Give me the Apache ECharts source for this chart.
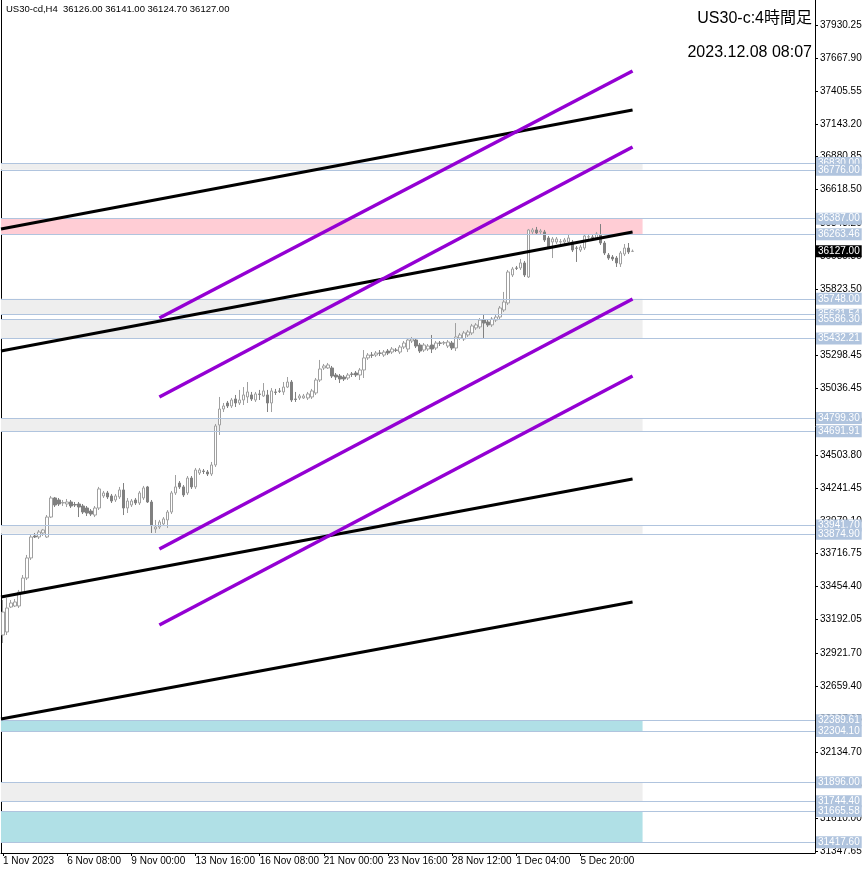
<!DOCTYPE html>
<html><head><meta charset="utf-8">
<script src="https://cdn.jsdelivr.net/npm/echarts@6/dist/echarts.min.js"></script>
<style>html,body{margin:0;padding:0;background:#fff}#c{width:866px;height:874px}</style>
</head><body><div id="c"></div>
<script>
// ---------- DATA ----------
const headerText = 'US30-cd,H4  36126.00 36141.00 36124.70 36127.00';
const titleText = 'US30-c:4時間足';
const timeText = '2023.12.08 08:07';

const xTickLabels = ['1 Nov 2023','6 Nov 08:00','9 Nov 00:00','13 Nov 16:00','16 Nov 08:00','21 Nov 00:00','23 Nov 16:00','28 Nov 12:00','1 Dec 04:00','5 Dec 20:00'];
const xTickEvery = 16;
const slotCount = 203; // bar slots visible on the chart (incl. empty right margin)

const yTickValues = [37930.25,37667.90,37405.55,37143.20,36880.85,36618.50,36348.20,36085.85,35823.50,35561.15,35298.45,35036.45,34774.10,34503.80,34241.45,33979.10,33716.75,33454.40,33192.05,32921.70,32659.40,32397.05,32134.70,31872.35,31610.00,31347.65];

// [open, close, low, high]
const ohlc = [
[33069,33252,33005,33348],[33093,33284,33069,33364],[33292,33324,33284,33348],[33300,33332,33292,33356],
[33300,33411,33284,33428],[33411,33523,33396,33547],[33523,33683,33507,33707],[33683,33850,33667,33866],
[33858,33850,33842,33882],[33850,33890,33834,33906],[33882,33906,33858,33914],[33850,34009,33842,34025],
[34009,34161,34001,34177],[34161,34105,34089,34169],[34145,34113,34097,34161],[34121,34125,34097,34145],
[34113,34129,34089,34153],[34129,34097,34081,34145],[34109,34105,34089,34129],[34113,34089,34009,34129],
[34097,34049,34033,34113],[34081,34041,34017,34097],[34057,34033,34017,34073],[34025,34081,34009,34097],
[34081,34233,34065,34249],[34177,34201,34161,34217],[34201,34169,34153,34217],[34177,34137,34121,34193],
[34145,34177,34129,34193],[34169,34225,34153,34249],[34225,34081,34025,34280],[34081,34137,34041,34161],
[34105,34137,34089,34153],[34145,34121,34105,34161],[34121,34201,34105,34217],[34161,34241,34145,34257],
[34249,34129,34121,34257],[34129,33946,33882,34145],[33914,33930,33882,33986],[33930,33970,33914,33986],
[33954,33994,33938,34009],[33986,34049,33922,34065],[34049,34201,34033,34217],[34201,34249,34185,34344],
[34280,34249,34233,34296],[34249,34185,34169,34264],[34201,34320,34185,34336],[34320,34249,34233,34336],
[34249,34384,34233,34400],[34360,34384,34344,34400],[34376,34372,34352,34392],[34368,34352,34336,34384],
[34352,34424,34336,34448],[34424,34735,34408,34751],[34743,34870,34663,34966],[34870,34894,34846,34918],
[34918,34894,34878,34934],[34894,34942,34878,34958],[34950,34918,34886,34982],[34918,34942,34902,35022],
[34942,34982,34902,35045],[34966,35006,34918,35085],[34982,34950,34934,35006],[34942,34990,34926,35006],
[34990,34986,34942,35022],[34974,35014,34966,35077],[34982,34918,34846,35022],[34918,35014,34846,35037],
[35006,35002,34982,35030],[35014,35011,34998,35037],[35006,35045,34982,35085],[35045,35085,35037,35125],
[35085,34942,34926,35101],[34950,34946,34926,35006],[34958,34974,34942,34990],[34958,34974,34950,34990],
[34958,34990,34942,35006],[34966,35014,34950,35030],[34998,35101,34982,35117],[35101,35189,35085,35261],
[35197,35213,35181,35229],[35197,35221,35189,35237],[35197,35133,35117,35213],[35141,35125,35101,35157],
[35133,35109,35077,35149],[35125,35109,35093,35141],[35117,35141,35101,35157],[35149,35146,35125,35165],
[35157,35141,35125,35173],[35141,35181,35101,35197],[35181,35277,35117,35340],[35277,35300,35261,35316],
[35300,35298,35277,35324],[35300,35316,35285,35332],[35316,35314,35292,35340],[35300,35324,35285,35340],
[35332,35316,35300,35348],[35324,35348,35308,35364],[35340,35338,35324,35356],[35324,35364,35308,35380],
[35364,35396,35348,35412],[35348,35420,35324,35436],[35412,35428,35396,35444],[35420,35372,35356,35436],
[35380,35332,35316,35396],[35340,35380,35324,35396],[35348,35372,35332,35388],[35380,35348,35316,35460],
[35356,35396,35340,35412],[35396,35394,35372,35412],[35396,35399,35380,35412],[35372,35404,35356,35420],
[35396,35356,35340,35412],[35356,35444,35332,35555],[35436,35460,35420,35476],[35428,35476,35412,35492],
[35460,35484,35444,35500],[35476,35532,35460,35548],[35516,35540,35500,35555],[35524,35579,35508,35595],
[35579,35555,35436,35619],[35563,35540,35524,35579],[35540,35587,35524,35603],[35579,35603,35563,35619],
[35603,35675,35587,35691],[35659,35723,35643,35803],[35715,35962,35699,35978],[35938,35986,35922,36002],
[35994,35991,35978,36010],[35994,36034,35978,36066],[36034,35938,35922,36050],[35922,36297,35914,36305],
[36281,36297,36265,36313],[36297,36273,36257,36321],[36281,36289,36265,36305],[36281,36217,36201,36297],
[36233,36161,36145,36249],[36201,36225,36073,36241],[36201,36225,36185,36241],[36201,36204,36177,36225],
[36201,36217,36185,36233],[36201,36233,36185,36257],[36201,36137,36121,36217],[36153,36151,36042,36169],
[36137,36161,36121,36177],[36153,36249,36137,36265],[36241,36243,36225,36257],[36241,36233,36217,36257],
[36233,36265,36217,36281],[36257,36193,36177,36344],[36193,36113,36097,36209],[36097,36073,36058,36113],
[36081,36066,36050,36097],[36073,36034,36002,36089],[36026,36113,36002,36129],[36105,36153,36089,36185],
[36153,36121,36105,36193],[36126.00,36127.00,36124.70,36141.00]
];

const levelLines = [36830.00,36776.00,36387.00,36263.46,35748.00,35621.54,35586.30,35432.21,34799.30,34691.91,33941.70,33874.90,32389.61,32304.10,31896.00,31744.40,31665.58,31417.60];
const grayZones = [[36830.00,36776.00],[35748.00,35621.54],[35586.30,35432.21],[34799.30,34691.91],[33941.70,33874.90],[31896.00,31744.40]];
const pinkZones = [[36387.00,36263.46]];
const blueZones = [[32389.61,32304.10],[31665.58,31417.60]];
const zoneStart = -0.5, zoneEnd = 159.5; // in bar-slot units
const bidPrice = 36127.00;

// trend lines: [[slot, price],[slot, price]]
const blackLines = [
  [[-0.5,36304.6],[157,37252.9]],
  [[-0.5,35332.3],[157,36280.6]],
  [[-0.5,33371.9],[157,34312.3]],
  [[-0.5,32399.6],[157,33332.0]]
];
const purpleLines = [
  [[39,35595.3],[157,37563.7]],
  [[39,34965.7],[157,36958.0]],
  [[39,33754.4],[157,35746.7]],
  [[39,33148.7],[157,35133.1]]
];

const yMin = 31331.7, yMax = 38129.5;

// ---------- CHART ----------
const FONT = "'Liberation Sans', 'Noto Sans CJK JP', sans-serif";
const categories = Array.from({length: slotCount}, (_, i) => String(i));
const showTick = (i) => i % xTickEvery === 0 && (i / xTickEvery) < xTickLabels.length;

function zoneItems(list, color) {
  return list.map(z => [
    {xAxis: zoneStart, yAxis: z[0], itemStyle: {color: color}},
    {xAxis: zoneEnd, yAxis: z[1]}
  ]);
}

const series = [
  {
    type: 'line', xAxisIndex: 1, yAxisIndex: 0, data: [], z: 1, silent: true,
    markArea: {
      silent: true,
      data: [].concat(zoneItems(grayZones, '#EEEEEE'), zoneItems(pinkZones, '#FFCDD5'), zoneItems(blueZones, '#B0E0E6'))
    },
    markLine: {
      silent: true, symbol: ['none', 'none'],
      lineStyle: {color: '#B0C4DE', width: 1, type: 'solid'},
      label: {
        position: 'end', distance: 1, formatter: p => Number(p.value).toFixed(2),
        fontSize: 10, fontFamily: FONT, color: '#FFFFFF', backgroundColor: '#B0C4DE',
        padding: [1, 2, 0, 2], lineHeight: 11
      },
      data: levelLines.map(v => ({yAxis: v}))
    }
  },
  {
    type: 'candlestick', xAxisIndex: 0, yAxisIndex: 0, data: ohlc, z: 3, barWidth: 3, silent: true,
    itemStyle: {color: '#FFFFFF', color0: '#808080', borderColor: '#A0A0A0', borderColor0: '#808080', borderWidth: 1}
  },
  {
    type: 'line', xAxisIndex: 1, yAxisIndex: 0, data: [], z: 6, silent: true,
    markLine: {
      silent: true, symbol: ['none', 'none'],
      lineStyle: {color: 'rgba(0,0,0,0)', width: 1, type: 'solid'},
      label: {
        show: true, position: 'end', distance: 1, formatter: p => Number(p.value).toFixed(2),
        fontSize: 10, fontFamily: FONT, color: '#FFFFFF', backgroundColor: '#000000',
        padding: [1, 2, 0, 2], lineHeight: 11
      },
      data: [{yAxis: bidPrice}]
    }
  }
];
blackLines.forEach(l => series.push({
  type: 'line', xAxisIndex: 1, yAxisIndex: 0, data: l, showSymbol: false, symbol: 'none', z: 5, silent: true,
  lineStyle: {color: '#000000', width: 3}
}));
purpleLines.forEach(l => series.push({
  type: 'line', xAxisIndex: 1, yAxisIndex: 0, data: l, showSymbol: false, symbol: 'none', z: 5, silent: true,
  lineStyle: {color: '#9400D3', width: 3.5}
}));

const option = {
  animation: false,
  backgroundColor: '#FFFFFF',
  title: [
    {text: headerText, left: 6, top: 5, padding: 0, textStyle: {fontSize: 9.5, fontWeight: 'normal', color: '#000', fontFamily: FONT}},
    {text: titleText, right: 54, top: 11, padding: 0, textStyle: {fontSize: 16, fontWeight: 'normal', color: '#000', fontFamily: FONT}},
    {text: timeText, right: 54, top: 45, padding: 0, textStyle: {fontSize: 16, fontWeight: 'normal', color: '#000', fontFamily: FONT}}
  ],
  grid: {left: 1, right: 51, top: 0, bottom: 21, containLabel: false, show: false},
  xAxis: [
    {
      type: 'category', data: categories, boundaryGap: true,
      axisLine: {show: true, onZero: false, lineStyle: {color: '#000', width: 1}},
      axisTick: {show: true, alignWithLabel: true, interval: showTick, length: 3, lineStyle: {color: '#000'}},
      axisLabel: {
        interval: showTick, formatter: (v, i) => xTickLabels[i / xTickEvery] || '',
        align: 'left', margin: 3, fontSize: 10, color: '#000', fontFamily: FONT
      },
      splitLine: {show: false}
    },
    {type: 'value', min: -0.5, max: slotCount - 0.5, show: false}
  ],
  yAxis: [
    {
      type: 'value', position: 'right', min: yMin, max: yMax, scale: true,
      axisLine: {show: true, onZero: false, lineStyle: {color: '#000', width: 1}},
      axisTick: {show: true, length: 3, customValues: yTickValues, lineStyle: {color: '#000'}},
      axisLabel: {customValues: yTickValues, formatter: v => Number(v).toFixed(2), fontSize: 10, color: '#000', margin: 5, fontFamily: FONT},
      splitLine: {show: false}
    },
    {
      type: 'value', position: 'left', min: yMin, max: yMax, scale: true,
      axisLine: {show: true, onZero: false, lineStyle: {color: '#000', width: 1}},
      axisTick: {show: false}, axisLabel: {show: false}, splitLine: {show: false}
    }
  ],
  series: series
};

const chart = echarts.init(document.getElementById('c'), null, {renderer: 'canvas'});
chart.setOption(option);
</script>
</body></html>
